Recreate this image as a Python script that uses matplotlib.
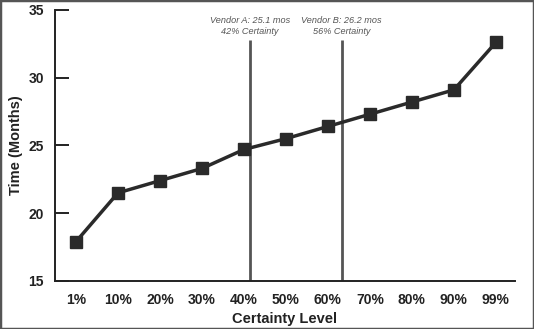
import numpy as np
import matplotlib.pyplot as plt
from matplotlib.patches import Rectangle

# data
levels = ["1%", "10%", "20%", "30%", "40%", "50%", "60%", "70%", "80%", "90%", "99%"]
months = [17.9, 21.5, 22.4, 23.3, 24.7, 25.5, 26.4, 27.3, 28.2, 29.1, 32.6]

vendor_labels = ["Vendor A: 25.1 mos\n42% Certainty", "Vendor B: 26.2 mos\n56% Certainty"]
vendor_pos = [4.15, 6.33]   # position along the category axis
vendor_top = 32.8

plt.rcParams['font.family'] = ['Liberation Sans', 'DejaVu Sans']

fig = plt.figure(figsize=(5.34, 3.29), dpi=100)
ax = fig.add_axes([0.103, 0.146, 0.861, 0.824])

x = np.arange(len(levels))

for pos, lab in zip(vendor_pos, vendor_labels):
    ax.vlines(pos, 15, vendor_top, color="#555555", lw=2, zorder=2)
    ax.text(pos, 34.55, lab, ha="center", va="top", fontsize=6.6,
            style="italic", color="#555555", linespacing=1.3)

ax.plot(x, months, color="#2a2a2a", lw=2.5, marker="s", markersize=9,
        markerfacecolor="#2a2a2a", markeredgecolor="#2a2a2a", zorder=3)

ax.set_xlim(-0.5, 10.45)
ax.set_ylim(15, 35)
ax.set_yticks([15, 20, 25, 30, 35])
ax.set_xticks(x)
ax.set_xticklabels(levels)

for s in ["top", "right"]:
    ax.spines[s].set_visible(False)
for s in ["left", "bottom"]:
    ax.spines[s].set_linewidth(1.4)
    ax.spines[s].set_color("#222222")

ax.tick_params(axis="y", direction="in", length=10, width=1.4, pad=8,
               labelsize=10, colors="#222222")
ax.tick_params(axis="x", length=0, pad=9, labelsize=10, colors="#222222")
for t in ax.get_xticklabels() + ax.get_yticklabels():
    t.set_fontweight("bold")

ax.set_xlabel("Certainty Level", fontsize=10.5, fontweight="bold", color="#222222", labelpad=3)
ax.set_ylabel("Time (Months)", fontsize=10.5, fontweight="bold", color="#222222", labelpad=4)

# figure border
fig.patches.append(Rectangle((0, 0), 1, 1, transform=fig.transFigure, fill=False,
                             edgecolor="#555555", lw=2.5))

fig.savefig("out.png", dpi=100)
